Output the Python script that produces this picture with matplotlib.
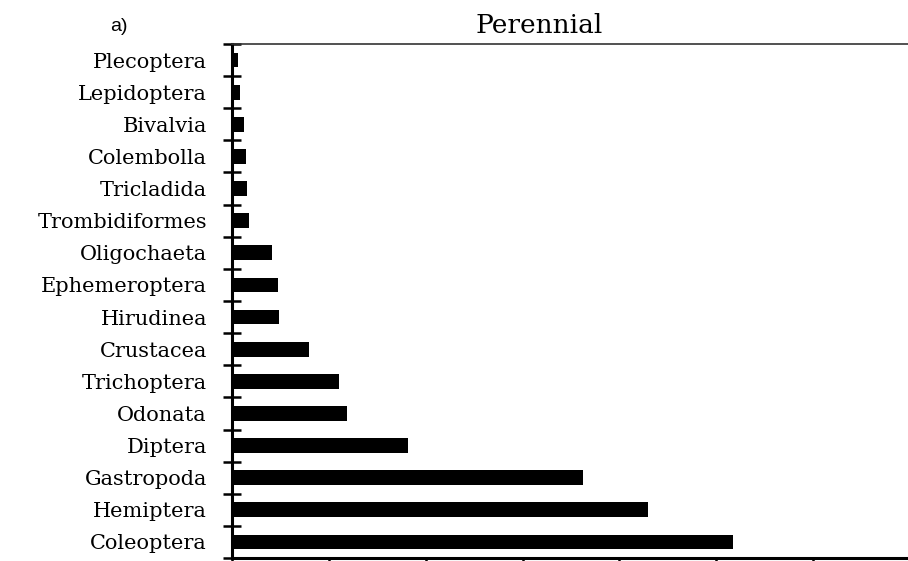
import matplotlib.pyplot as plt
import numpy as np

# taxa, bottom to top, and their values
taxa = ["Coleoptera", "Hemiptera", "Gastropoda", "Diptera", "Odonata",
        "Trichoptera", "Crustacea", "Hirudinea", "Ephemeroptera", "Oligochaeta",
        "Trombidiformes", "Tricladida", "Colembolla", "Bivalvia", "Lepidoptera",
        "Plecoptera"]
values = [5.17, 4.30, 3.62, 1.82, 1.19, 1.11, 0.79, 0.49, 0.48, 0.41,
          0.18, 0.16, 0.14, 0.12, 0.08, 0.06]

fig = plt.figure(figsize=(9.08, 5.61), dpi=100)
ax = fig.add_axes([0.2555, 0.0053, 0.7445, 0.9163])

y = np.arange(len(taxa))
ax.barh(y, values, height=0.46, color="black")

ax.set_ylim(-0.5, len(taxa) - 0.5)
ax.set_xlim(0, 6.98)

# category labels between boundary ticks
ax.set_yticks(y)
ax.set_yticklabels(taxa, family="DejaVu Serif", fontsize=15)
ax.tick_params(axis="y", which="major", length=0, pad=18)
ax.set_yticks(np.arange(-0.5, len(taxa)), minor=True)
ax.tick_params(axis="y", which="minor", direction="inout", length=13, width=1.8)

ax.set_xticks(np.arange(0, 7))
ax.set_xticklabels([])
ax.tick_params(axis="x", direction="out", length=4, width=1.8)

ax.spines["left"].set_linewidth(2.2)
ax.spines["bottom"].set_linewidth(2.2)
ax.spines["top"].set_linewidth(1.2)
ax.spines["top"].set_color("#333333")
ax.spines["right"].set_visible(False)

fig.text(0.594, 0.941, "Perennial", ha="center", va="baseline",
         family="DejaVu Serif", fontsize=19)
fig.text(0.131, 0.945, "a)", ha="center", va="baseline",
         family="Liberation Sans", fontsize=14)

fig.savefig("out.png", dpi=100)
